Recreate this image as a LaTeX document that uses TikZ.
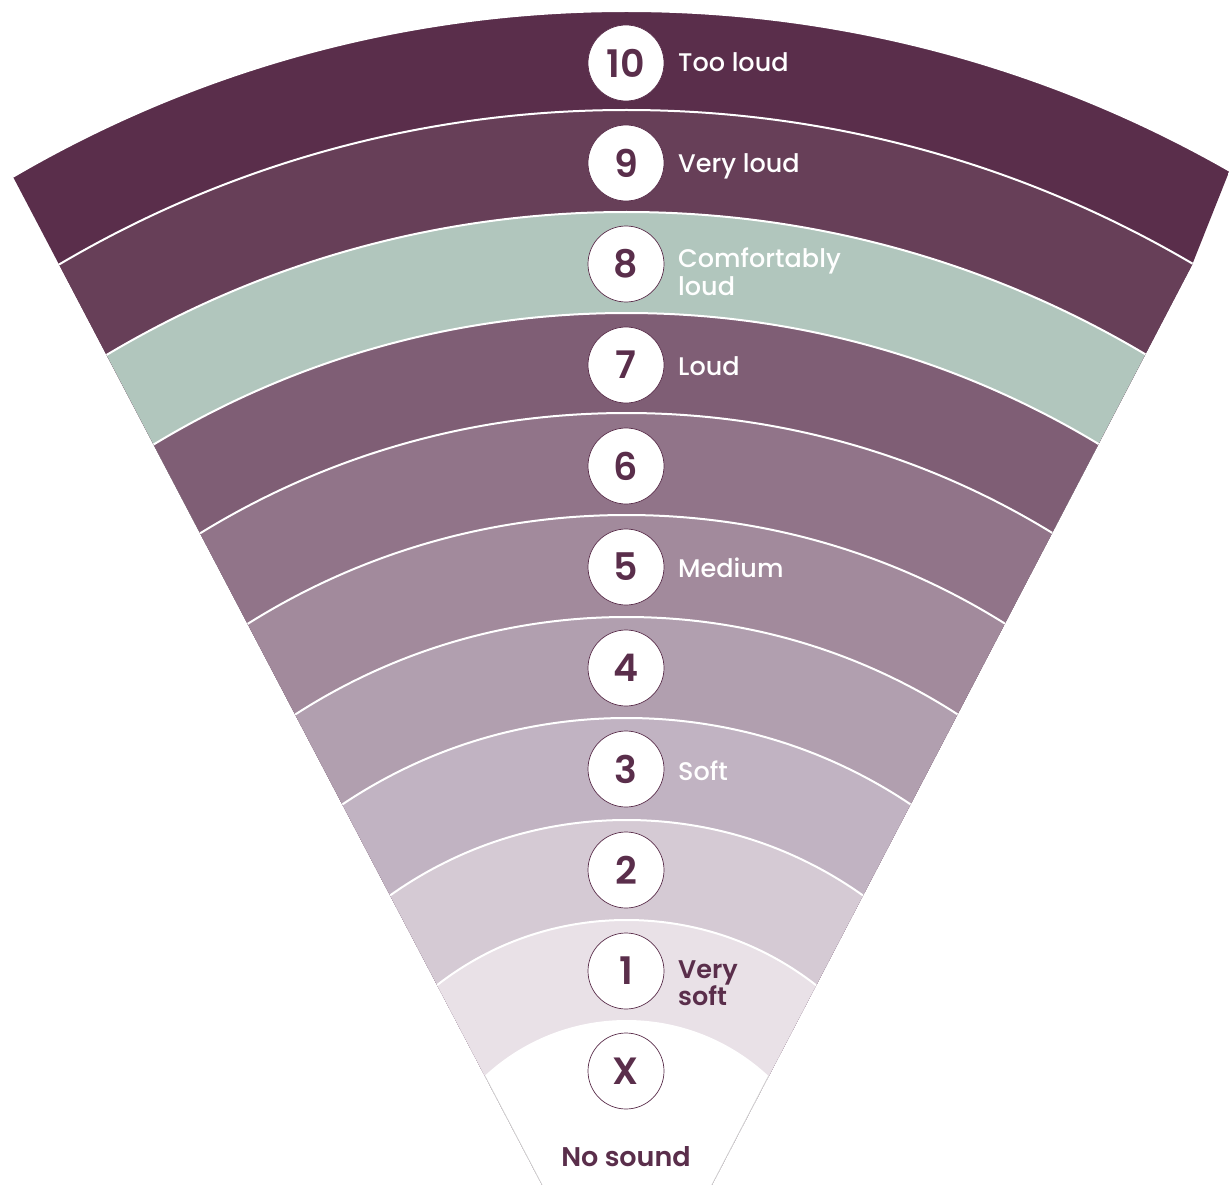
\documentclass[tikz,border=0pt]{standalone}
\usepackage{fontspec}
\setmainfont{Poppins}
\newfontfamily\medfont{Poppins Medium}
\newfontfamily\semifont{Poppins SemiBold}
\definecolor{plum}{HTML}{5A2E4B}
\definecolor{bX}{HTML}{5A2E4B}
\definecolor{bIX}{HTML}{673F58}
\definecolor{bVIII}{HTML}{B1C6BD}
\definecolor{bVII}{HTML}{7F5E75}
\definecolor{bVI}{HTML}{917489}
\definecolor{bV}{HTML}{A28A9C}
\definecolor{bIV}{HTML}{B19FAF}
\definecolor{bIII}{HTML}{C1B3C2}
\definecolor{bII}{HTML}{D5CAD4}
\definecolor{bI}{HTML}{E9E1E7}
\tikzset{
  numcircle/.style={circle, fill=white, draw=plum, line width=0.7pt, minimum size=76pt, inner sep=0pt,
    font=\semifont\fontsize{38}{38}\selectfont, text=plum},
  lab/.style={anchor=base west, inner sep=0pt, text=white, font=\medfont\fontsize{25.5}{28}\selectfont},
  darklab/.style={lab, text=plum, font=\semifont\fontsize{25.5}{28}\selectfont},
}
\begin{document}
\begin{tikzpicture}[x=1pt,y=-1pt]
\useasboundingbox (0,0) rectangle (1229,1185);
\coordinate (C) at (626.5,1228);
\begin{scope}
  \clip (-106,-50) -- (550,1200) -- (704,1200) -- (1192,265) -- (1229,172) -- (1229,-50) -- cycle;
  \foreach \r/\c in {1217/bX,1118/bIX,1016/bVIII,915/bVII,815/bVI,713/bV,611/bIV,510/bIII,408/bII,308/bI}
    \fill[\c, draw=white, line width=2pt] (C) circle (\r pt);
  \fill[white] (C) circle (208pt);
\end{scope}
\draw[black!20, line width=0.6pt] (485,1076) -- (550,1200);
\draw[black!20, line width=0.6pt] (768.5,1076) -- (704,1200);

\node[numcircle] (n10) at (626,63) {10};
\node[numcircle] (n9) at (626,163) {9};
\node[numcircle] (n8) at (626,264) {8};
\node[numcircle] (n7) at (626,365) {7};
\node[numcircle] (n6) at (626,466) {6};
\node[numcircle] (n5) at (626,567) {5};
\node[numcircle] (n4) at (626,668) {4};
\node[numcircle] (n3) at (626,769) {3};
\node[numcircle] (n2) at (626,870) {2};
\node[numcircle] (n1) at (626,971) {1};
\node[numcircle] (nX) at (626,1071) {X};

\node[lab] (l10) at (678,72) {Too loud};
\node[lab] (l9) at (678,173) {Very loud};
\node[lab] (l8a) at (678,267) {Comfortably};
\node[lab] (l8b) at (678,295) {loud};
\node[lab] (l7) at (678,375) {Loud};
\node[lab] (l5) at (678,577) {Medium};
\node[lab] (l3) at (678,780) {Soft};
\node[darklab] (l1a) at (678,978) {Very};
\node[darklab] (l1b) at (678,1005) {soft};
\node[darklab, anchor=base, font=\semifont\fontsize{27}{28}\selectfont] (l0) at (626,1166) {No sound};
\end{tikzpicture}
\end{document}
